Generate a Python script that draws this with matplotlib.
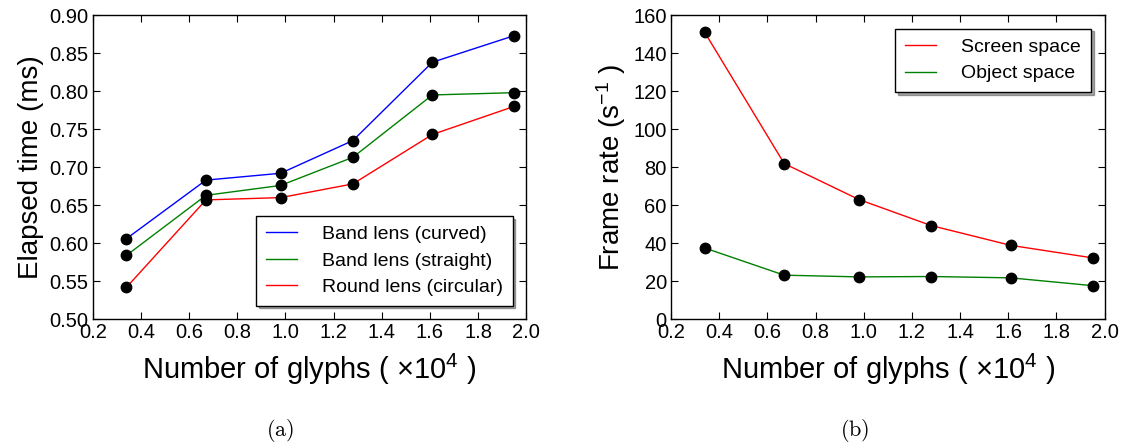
import numpy as np
import matplotlib
matplotlib.use('Agg')
import matplotlib.pyplot as plt

plt.rcParams['font.family'] = ['Liberation Sans', 'DejaVu Sans']
plt.rcParams['mathtext.fontset'] = 'custom'
plt.rcParams['mathtext.rm'] = 'Liberation Sans'
plt.rcParams['mathtext.it'] = 'Liberation Sans'

# number of glyphs (x 10^4)
glyphs = [0.34, 0.67, 0.98, 1.28, 1.61, 1.95]

# (a) elapsed time in ms
band_curved = [0.606, 0.683, 0.692, 0.735, 0.838, 0.873]
band_straight = [0.584, 0.663, 0.676, 0.713, 0.795, 0.798]
round_circular = [0.542, 0.657, 0.660, 0.678, 0.743, 0.780]

# (b) frame rate
screen_space = [150.9, 81.9, 63.0, 49.3, 38.9, 32.3]
object_space = [37.5, 23.2, 22.3, 22.5, 21.8, 17.7]

xticks = np.arange(0.2, 2.01, 0.2)

fig = plt.figure(figsize=(11.35, 4.48), dpi=100)
ax1 = fig.add_axes([0.0817, 0.2873, 0.382, 0.679])
ax2 = fig.add_axes([0.5912, 0.2873, 0.382, 0.679])


def style(ax):
    ax.tick_params(direction='in', top=True, right=True, length=5, width=0.8,
                   labelsize=14.5, pad=3)
    for s in ax.spines.values():
        s.set_linewidth(1.0)
        s.set_color('black')
    ax.set_xlim(0.2, 2.0)
    ax.set_xticks(xticks)
    ax.set_xticklabels(['%.1f' % t for t in xticks])
    ax.set_xlabel('Number of glyphs ( $\\times10^4$ )', fontsize=21, labelpad=7)


def curve(ax, y, color, label):
    ax.plot(glyphs, y, color=color, linewidth=1.0, label=label)
    ax.plot(glyphs, y, 'o', color='black', markersize=7.5, zorder=3)


curve(ax1, band_curved, 'blue', 'Band lens (curved)')
curve(ax1, band_straight, 'green', 'Band lens (straight)')
curve(ax1, round_circular, 'red', 'Round lens (circular)')
style(ax1)
ax1.set_ylim(0.5, 0.9)
yt = np.arange(0.5, 0.901, 0.05)
ax1.set_yticks(yt)
ax1.set_yticklabels(['%.2f' % t for t in yt])
ax1.set_ylabel('Elapsed time (ms)', fontsize=20, labelpad=4)
leg = ax1.legend(loc='lower right', fontsize=14, fancybox=False, shadow=True,
                 handlelength=1.6, handletextpad=1.3, labelspacing=0.45,
                 borderpad=0.5, borderaxespad=0.7, framealpha=1)
leg.get_frame().set_edgecolor('black')
leg.get_frame().set_linewidth(1.0)

curve(ax2, screen_space, 'red', 'Screen space')
curve(ax2, object_space, 'green', 'Object space')
style(ax2)
ax2.set_ylim(0, 160)
ax2.set_yticks(np.arange(0, 161, 20))
ax2.set_ylabel('Frame rate (s$^{-1}$ )', fontsize=20, labelpad=4)
leg = ax2.legend(loc='upper right', fontsize=14, fancybox=False, shadow=True,
                 handlelength=1.6, handletextpad=1.3, labelspacing=0.45,
                 borderpad=0.5, borderaxespad=0.7, framealpha=1)
leg.get_frame().set_edgecolor('black')
leg.get_frame().set_linewidth(1.0)

fig.text(0.2467, 0.04, r'$\mathrm{(a)}$', fontsize=16, ha='center', va='center',
         math_fontfamily='cm')
fig.text(0.753, 0.04, r'$\mathrm{(b)}$', fontsize=16, ha='center', va='center',
         math_fontfamily='cm')

fig.savefig('out.png', dpi=100)
